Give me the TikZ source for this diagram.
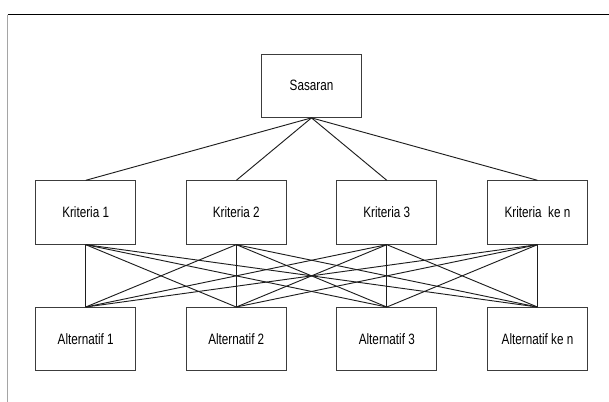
\documentclass[tikz,border=0pt]{standalone}
\usepackage{fontspec}
\setmainfont[FakeStretch=0.78]{Liberation Sans}
\usepackage{tikz}

\tikzset{
  kotak/.style={draw={rgb,255:red,60;green,60;blue,60}, line width=0.75pt, minimum width=75pt, minimum height=47.5pt, inner sep=0pt, font=\fontsize{11.25pt}{13pt}\selectfont},
  garis/.style={draw={rgb,255:red,30;green,30;blue,30}, line width=0.7pt}
}

\begin{document}
\begin{tikzpicture}[x=0.75pt,y=0.75pt,yscale=-1]
    \useasboundingbox (0,0) rectangle (609,402);
    %Frame
    \draw [color={rgb, 255:red, 0; green, 0; blue, 0 }, line width=0.75pt] (7.7,14.7) -- (609,14.7) ;
    \draw [color={rgb, 255:red, 165; green, 165; blue, 165 }, line width=1pt] (7.7,14.7) -- (7.7,402) ;
    %Goal
    \node [kotak] (sasaran) at (311.5,85.7) {Sasaran};
    %Criteria
    \node [kotak] (krit1) at (85.7,212.5) {Kriteria 1};
    \node [kotak] (krit2) at (236.3,212.5) {Kriteria 2};
    \node [kotak] (krit3) at (386.8,212.5) {Kriteria 3};
    \node [kotak] (krit4) at (537.5,212.5) {Kriteria\ \ ke n};
    %Alternatives
    \node [kotak] (alt1) at (85.7,339.2) {Alternatif 1};
    \node [kotak] (alt2) at (236.3,339.2) {Alternatif 2};
    \node [kotak] (alt3) at (386.8,339.2) {Alternatif 3};
    \node [kotak] (alt4) at (537.5,339.2) {Alternatif ke n};
    %Connectors
    \foreach \i in {1,...,4} {
        \draw [garis] (sasaran.south) -- (krit\i.north) ;
        \foreach \j in {1,...,4}
            \draw [garis] (krit\i.south) -- (alt\j.north) ;
    }
\end{tikzpicture}
\end{document}
